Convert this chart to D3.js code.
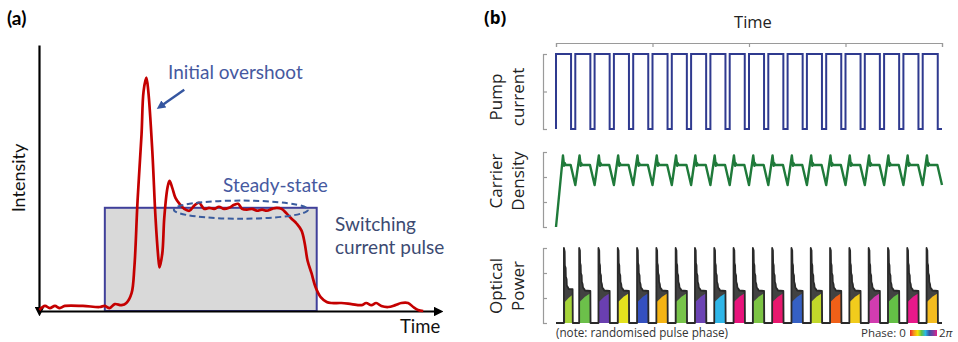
<!DOCTYPE html>
<html><head><meta charset="utf-8">
<script src="https://cdn.jsdelivr.net/npm/d3@7"></script>
<style>body{margin:0;background:#fff} svg{display:block}</style>
</head><body><svg id="c" width="958" height="342"></svg>
<script>
// ---------- Panel (a) data ----------
const aTime = [0.1,1.5,2.7,4.0,5.2,6.5,11.0,15.2,16.5,17.7,19.0,20.7,21.9,23.2,23.9,24.7,25.7,26.2,26.9,27.4,28.4,29.2,29.9,30.2,30.9,31.4,32.2,32.7,33.4,34.2,35.2,36.4,37.7,38.9,40.1,41.4,42.6,43.9,45.1,46.4,47.6,48.9,49.9,50.9,52.1,53.4,54.6,55.9,57.1,58.4,59.6,60.8,62.1,63.3,64.6,65.8,66.6,67.3,68.3,69.3,70.6,72.1,73.3,75.8,78.3,80.8,82.0,83.3,84.5,85.8,87.5,89.3,90.8,92.5,93.8,95.0,96.3];
const aIntensity = [0.4,1.9,1.1,1.9,1.1,1.9,1.9,1.5,1.9,1.1,2.6,2.2,3.0,6.7,16.4,41.4,66.4,82.5,87.7,82.5,60.1,35.1,20.1,16.4,21.6,35.1,46.3,48.9,46.3,42.5,40.3,38.4,37.7,39.6,40.7,38.4,38.8,38.4,39.2,38.4,38.8,39.9,40.3,38.4,38.1,38.4,37.7,38.1,37.7,38.4,38.8,38.4,36.6,34.7,32.8,30.2,25.4,19.0,14.2,9.0,5.2,3.4,3.0,3.0,2.6,2.2,3.0,2.2,3.0,1.9,1.5,2.2,3.0,3.0,1.5,0.4,0.0];
const switchWindow = [16.5, 69.6];     // time extent of current pulse
const switchLevel = 38.8;              // pulse height
const steadyCentre = [50.6, 38.1];     // ellipse centre (time, intensity)
const steadyRadii = [16.8, 3.4];       // ellipse radii (time, intensity)
const overshootArrow = [[36.4, 83.2], [30.4, 76.9]];
const aLabels = {overshoot: "Initial overshoot", steady: "Steady-state", sw1: "Switching", sw2: "current pulse", x: "Time", y: "Intensity"};

// ---------- Panel (b) data ----------
const pulseStarts = [0,1,2,3,4,5,6,7,8,9,10,11,12,13,14,15,16,17,18,19];
const pumpLevels = [0, 2];
const pumpDuty = 0.78;
const timeTicks = [0, 5, 10, 15, 20];
const pumpTicks = [0, 1, 2];
const carrierTicks = [0, 1, 2, 3];
const opticalTicks = [0, 1, 2, 3];
const carrierStartup = [[0,0],[0.36,2.86],[0.42,2.45],[0.46,2.55],[0.5,2.48],[0.76,2.48],[1,1.68]];
const carrierCycle = [[0.22,2.86],[0.28,2.45],[0.31,2.55],[0.35,2.48],[0.76,2.48],[1,1.68]];
const opticalFirst = [[0.41,0],[0.41,3.0],[0.45,2.85],[0.46,2.3],[0.5,2.2],[0.51,1.85],[0.55,1.75],[0.56,1.5],[0.62,1.42],[0.66,1.36],[0.86,1.35],[0.87,0]];
const opticalCycle = [[0.2,0],[0.2,3.0],[0.24,2.9],[0.25,2.4],[0.28,2.3],[0.29,2.0],[0.33,1.9],[0.34,1.65],[0.38,1.55],[0.4,1.42],[0.46,1.36],[0.5,1.3],[0.78,1.28],[0.79,0]];
const colourFirst = [[0.47,0],[0.47,0.85],[0.65,1.0],[0.84,1.12],[0.84,0]];
const colourCycle = [[0.23,0],[0.23,0.85],[0.5,1.05],[0.76,1.18],[0.76,0]];
const phaseColours = ["#a6d43a","#6cc04a","#6a3fb0","#e4e21e","#3450c0","#f5b414","#78c44a","#6c44b4","#2fb6e8","#e8147c","#7cc444","#e8186e","#3560c4","#c2d82a","#f06018","#f2cc1c","#d23cb0","#64c046","#e8188a","#f4bc20"];
const phaseBar = ["#e8262a","#f7941d","#f5e400","#5cc14c","#2ab8e6","#3a53a4","#7b3fa0","#e0218a"];
const bLabels = {time: "Time", pump: ["Pump","current"], carrier: ["Carrier","Density"], optical: ["Optical","Power"], note: "(note: randomised pulse phase)", phase: "Phase: 0"};

// ---------- drawing ----------
const svg = d3.select("#c");
svg.append("rect").attr("width",958).attr("height",342).attr("fill","#fff");
const defs = svg.append("defs");
defs.append("marker").attr("id","axArrow").attr("viewBox","0 0 10 10").attr("refX",5).attr("refY",5)
  .attr("markerWidth",4.5).attr("markerHeight",4.5).attr("orient","auto-start-reverse")
  .append("path").attr("d","M0,0L10,5L0,10z").attr("fill","#000");
defs.append("marker").attr("id","blueArrow").attr("viewBox","0 0 10 10").attr("refX",5).attr("refY",5)
  .attr("markerWidth",3.6).attr("markerHeight",3.6).attr("orient","auto")
  .append("path").attr("d","M0,0L10,5L0,10z").attr("fill","#3556a0");

const fa = "Lato, 'Open Sans', sans-serif";
const fb = "'Open Sans', 'Noto Sans', sans-serif";

// Panel (a)
const xA = d3.scaleLinear([0,100],[39,438]);
const yA = d3.scaleLinear([0,100],[311,45]);
svg.append("text").attr("x",7).attr("y",25).attr("font-family",fa).attr("font-weight","bold").attr("font-size",19).text("(a)");

svg.append("rect").attr("x",xA(switchWindow[0])).attr("y",yA(switchLevel))
  .attr("width",xA(switchWindow[1])-xA(switchWindow[0])).attr("height",yA(0)-yA(switchLevel))
  .attr("fill","#d9d9d9").attr("stroke","#40409a").attr("stroke-width",2);

const gxA = svg.append("g").attr("transform",`translate(0,${yA(0)})`)
  .call(d3.axisBottom(xA).tickValues([]).tickSizeOuter(0));
gxA.select(".domain").attr("stroke","#000").attr("stroke-width",2.2).attr("marker-end","url(#axArrow)");
const gyA = svg.append("g").attr("transform",`translate(${xA(0)},0)`)
  .call(d3.axisLeft(yA).tickValues([]).tickSizeOuter(0));
gyA.select(".domain").attr("stroke","#000").attr("stroke-width",2.2).attr("marker-start","url(#axArrow)");

const aPts = aTime.map((t,i)=>[t,aIntensity[i]]);
svg.append("path").datum(aPts)
  .attr("d", d3.line().x(d=>xA(d[0])).y(d=>yA(d[1])).curve(d3.curveCatmullRom.alpha(0.5)))
  .attr("fill","none").attr("stroke","#c40000").attr("stroke-width",2.7).attr("stroke-linejoin","round");

svg.append("ellipse").attr("cx",xA(steadyCentre[0])).attr("cy",yA(steadyCentre[1]))
  .attr("rx",xA(steadyRadii[0])-xA(0)).attr("ry",yA(0)-yA(steadyRadii[1]))
  .attr("fill","none").attr("stroke","#3a5c9e").attr("stroke-width",2).attr("stroke-dasharray","6,3.5");

svg.append("line").attr("x1",xA(overshootArrow[0][0])).attr("y1",yA(overshootArrow[0][1]))
  .attr("x2",xA(overshootArrow[1][0])).attr("y2",yA(overshootArrow[1][1]))
  .attr("stroke","#3556a0").attr("stroke-width",2.4).attr("marker-end","url(#blueArrow)");

const ta = (x,y,s,c,fs)=>svg.append("text").attr("x",x).attr("y",y).attr("font-family",fa).attr("font-size",fs).attr("fill",c).text(s);
ta(168,79,aLabels.overshoot,"#46599f",19);
ta(223,192,aLabels.steady,"#46599f",19);
ta(335,231,aLabels.sw1,"#3c4a72",19);
ta(335,254,aLabels.sw2,"#3c4a72",19);
ta(400,333,aLabels.x,"#111",18.5);
svg.append("text").attr("transform","translate(25,178) rotate(-90)").attr("text-anchor","middle")
  .attr("font-family",fa).attr("font-size",18).attr("fill","#111").text(aLabels.y);

// Panel (b)
svg.append("text").attr("x",484).attr("y",24).attr("font-family",fb).attr("font-weight","bold").attr("font-size",17).text("(b)");
const xB = d3.scaleLinear([0,20],[556,942]);
const yP = d3.scaleLinear([0,2],[129,54]);
const yC = d3.scaleLinear([0,3],[227,152]);
const yO = d3.scaleLinear([0,3],[323,248]);
const grey = "#9a9a9a";
function styleAxis(g){ g.selectAll("text").remove(); g.selectAll("path,line").attr("stroke",grey).attr("stroke-width",1.2); }

svg.append("text").attr("x",753).attr("y",28).attr("text-anchor","middle").attr("font-family",fb).attr("font-size",16.5).attr("fill","#222").text(bLabels.time);
svg.append("g").attr("transform","translate(0,43)").call(d3.axisBottom(xB).tickValues(timeTicks).tickSize(4).tickSizeOuter(4)).call(styleAxis);
svg.append("g").attr("transform","translate(543,0)").call(d3.axisRight(yP).tickValues(pumpTicks).tickSize(4).tickSizeOuter(4)).call(styleAxis);
svg.append("g").attr("transform","translate(543,0)").call(d3.axisRight(yC).tickValues(carrierTicks).tickSize(4).tickSizeOuter(4)).call(styleAxis);
svg.append("g").attr("transform","translate(543,0)").call(d3.axisRight(yO).tickValues(opticalTicks).tickSize(4).tickSizeOuter(4)).call(styleAxis);

function sideLabel(lines, cy){
  lines.forEach((s,i)=>{
    svg.append("text").attr("transform",`translate(${502+i*22},${cy}) rotate(-90)`).attr("text-anchor","middle")
      .attr("font-family",fb).attr("font-size",17).attr("fill","#222").text(s);
  });
}
sideLabel(bLabels.pump, 97);
sideLabel(bLabels.carrier, 181);
sideLabel(bLabels.optical, 286);

// pump square wave
const pumpPts = [];
pulseStarts.forEach(k=>{ pumpPts.push([k,pumpLevels[0]],[k,pumpLevels[1]],[k+pumpDuty,pumpLevels[1]],[k+pumpDuty,pumpLevels[0]]); });
pumpPts.push([20,pumpLevels[0]]);
svg.append("path").datum(pumpPts).attr("d",d3.line().x(d=>xB(d[0])).y(d=>yP(d[1])))
  .attr("fill","none").attr("stroke","#2f3a8f").attr("stroke-width",2);

// carrier density
const carPts = carrierStartup.slice();
pulseStarts.slice(1).forEach(k=>carrierCycle.forEach(p=>carPts.push([k+p[0],p[1]])));
svg.append("path").datum(carPts).attr("d",d3.line().x(d=>xB(d[0])).y(d=>yC(d[1])))
  .attr("fill","none").attr("stroke","#1f7a3a").attr("stroke-width",2.4).attr("stroke-linejoin","round");

// optical power
const optPts = [[0,0]];
opticalFirst.forEach(p=>optPts.push(p));
pulseStarts.slice(1).forEach(k=>opticalCycle.forEach(p=>optPts.push([k+p[0],p[1]])));
optPts.push([20,0]);
svg.append("path").datum(optPts).attr("d",d3.area().x(d=>xB(d[0])).y0(yO(0)).y1(d=>yO(d[1])))
  .attr("fill","#424242");
pulseStarts.forEach(k=>{
  const shape = k===0 ? colourFirst : colourCycle;
  svg.append("path").datum(shape.map(p=>[k+p[0],p[1]]))
    .attr("d",d3.line().x(d=>xB(d[0])).y(d=>yO(d[1])))
    .attr("fill",phaseColours[k]).attr("stroke","none");
});
svg.append("path").datum(optPts).attr("d",d3.line().x(d=>xB(d[0])).y(d=>yO(d[1])))
  .attr("fill","none").attr("stroke","#2a2a2a").attr("stroke-width",1.8).attr("stroke-linejoin","round");

// bottom notes
svg.append("text").attr("x",556).attr("y",337).attr("font-family",fb).attr("font-size",11.7).attr("fill","#333").text(bLabels.note);
svg.append("text").attr("x",861).attr("y",337).attr("font-family",fb).attr("font-size",11.5).attr("fill","#333").text(bLabels.phase);
const grad = defs.append("linearGradient").attr("id","phaseGrad");
phaseBar.forEach((c,i)=>grad.append("stop").attr("offset",i/(phaseBar.length-1)).attr("stop-color",c));
svg.append("rect").attr("x",910).attr("y",330).attr("width",27).attr("height",6).attr("fill","url(#phaseGrad)");
const pi = svg.append("text").attr("x",939).attr("y",337).attr("font-family",fb).attr("font-size",11.5).attr("fill","#333");
pi.append("tspan").text("2");
pi.append("tspan").attr("font-style","italic").text("π");
</script></body></html>
